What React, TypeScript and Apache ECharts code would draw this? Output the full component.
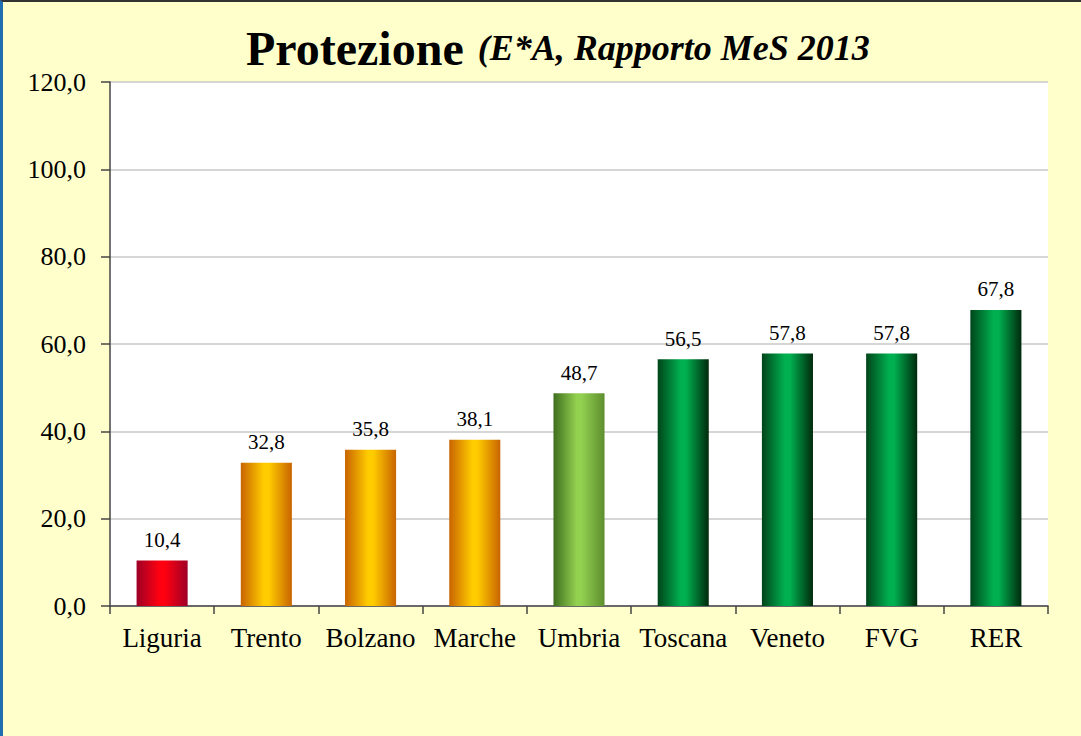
import React, { useEffect, useRef } from "react";
import * as echarts from "echarts";

const categories = ["Liguria", "Trento", "Bolzano", "Marche", "Umbria", "Toscana", "Veneto", "FVG", "RER"];
const values = [10.4, 32.8, 35.8, 38.1, 48.7, 56.5, 57.8, 57.8, 67.8];
const colorGroups = ["red", "orange", "orange", "orange", "light", "dark", "dark", "dark", "dark"];
const yTicks = [0, 20, 40, 60, 80, 100, 120];

const palettes: Record<string, [string, string, string]> = {
  red: ["#9E0026", "#FF0010", "#9E0026"],
  orange: ["#C86400", "#FFCC00", "#C86400"],
  light: ["#3F6E1E", "#92D050", "#5E8E2E"],
  dark: ["#00451A", "#00B050", "#002A0C"],
};

function grad(key: string) {
  const p = palettes[key];
  return new echarts.graphic.LinearGradient(0, 0, 1, 0, [
    { offset: 0, color: p[0] },
    { offset: 0.45, color: p[1] },
    { offset: 0.55, color: p[1] },
    { offset: 1, color: p[2] },
  ]);
}

export default function App() {
  const ref = useRef<HTMLDivElement>(null);
  useEffect(() => {
    if (!ref.current) return;
    const chart = echarts.init(ref.current, null, { renderer: "svg" });
    const serif = "'Liberation Serif', 'Times New Roman', serif";
    chart.setOption({
      animation: false,
      backgroundColor: "#FFFFCC",
      title: {
        left: 238,
        top: 17,
        text: "{a|Protezione}{b|(E*A, Rapporto MeS 2013}",
        textStyle: {
          rich: {
            a: { fontFamily: serif, fontWeight: "bold", fontSize: 48, color: "#000" },
            b: { fontFamily: serif, fontWeight: "bold", fontStyle: "italic", fontSize: 36, color: "#000", padding: [0, 0, 0, 14] },
          },
        },
      },
      grid: {
        left: 107,
        right: 33,
        top: 80,
        bottom: 130,
        show: true,
        backgroundColor: "#FFFFFF",
        borderWidth: 0,
      },
      xAxis: {
        type: "category",
        data: categories,
        axisLine: { lineStyle: { color: "#444", width: 1.5 } },
        axisTick: { show: true, length: 8, lineStyle: { color: "#444", width: 1.5 } },
        axisLabel: { interval: 0, hideOverlap: false, fontFamily: serif, fontSize: 27, color: "#000", margin: 18 },
      },
      yAxis: {
        type: "value",
        min: 0,
        max: 120,
        interval: 20,
        axisLine: { show: true, lineStyle: { color: "#444", width: 1.5 } },
        axisTick: { show: true, length: 9, lineStyle: { color: "#444", width: 1.5 } },
        axisLabel: {
          fontFamily: serif,
          fontSize: 26,
          color: "#000",
          margin: 24,
          formatter: (v: number) => (yTicks.includes(v) ? v.toFixed(1).replace(".", ",") : ""),
        },
        splitLine: { show: true, lineStyle: { color: "#C8C8C8", width: 1.5 } },
      },
      series: [
        {
          type: "bar",
          barWidth: "49%",
          data: values.map((v, i) => ({
            value: v,
            itemStyle: { color: grad(colorGroups[i]) },
          })),
          label: {
            show: true,
            position: "top",
            distance: 10,
            fontFamily: serif,
            fontSize: 21,
            color: "#000",
            formatter: (p: any) => Number(p.value).toFixed(1).replace(".", ","),
          },
        },
      ],
    });
    return () => chart.dispose();
  }, []);
  return (
    <div
      style={{
        position: "fixed",
        left: 0,
        top: 0,
        width: 1081,
        height: 736,
        boxSizing: "border-box",
        borderLeft: "3px solid #1E6EB0",
        borderTop: "2px solid #333",
        background: "#FFFFCC",
      }}
    >
      <div ref={ref} style={{ width: 1078, height: 734 }} />
    </div>
  );
}
